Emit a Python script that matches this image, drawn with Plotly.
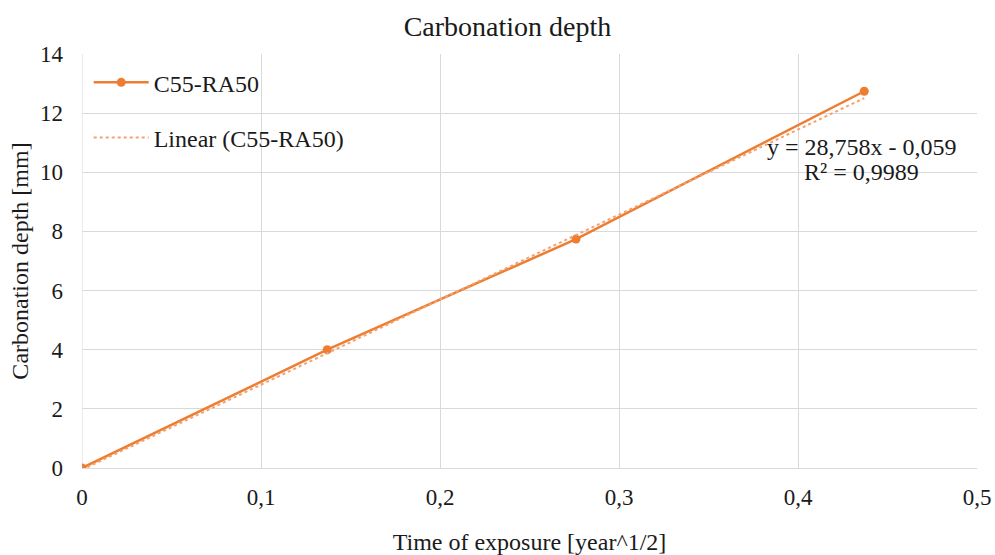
import numpy as np
import plotly.graph_objects as go

# Data
time_sqrt_year = [0.0, 0.137, 0.276, 0.437]
carb_depth_mm = [0.0, 4.0, 7.74, 12.74]
trend_slope = 28.758
trend_intercept = -0.059
trend_r2 = 0.9989
series_name = "C55-RA50"
x_ticks = [0, 0.1, 0.2, 0.3, 0.4, 0.5]
y_ticks = [0, 2, 4, 6, 8, 10, 12, 14]

orange = "#ED7D31"
font_family = "Liberation Serif"
text_color = "#1a1a1a"

trend_x = np.linspace(0, max(time_sqrt_year), 50)
trend_y = trend_slope * trend_x + trend_intercept

fig = go.Figure()
fig.add_trace(go.Scatter(
    x=time_sqrt_year, y=carb_depth_mm, mode="lines+markers",
    name=series_name, legendgroup="a",
    line=dict(color=orange, width=2.5),
    marker=dict(color=orange, size=9),
))
fig.add_trace(go.Scatter(
    x=trend_x, y=trend_y, mode="lines",
    name=f"Linear ({series_name})", legendgroup="b",
    line=dict(color="#F4A16F", width=2, dash="dot"),
))

eq_line1 = f"y = {trend_slope:.3f}x - {abs(trend_intercept):.3f}".replace(".", ",")
eq_line2 = f"R² = {trend_r2:.4f}".replace(".", ",")
fig.add_annotation(x=0.4355, y=10.86, xref="x", yref="y", text=eq_line1, showarrow=False,
                   font=dict(family=font_family, size=24, color=text_color))
fig.add_annotation(x=0.4355, y=10.01, xref="x", yref="y", text=eq_line2, showarrow=False,
                   font=dict(family=font_family, size=24, color=text_color))

tick_font = dict(family=font_family, size=23, color=text_color)
label_font = dict(family=font_family, size=24, color=text_color)

fig.update_layout(
    width=995, height=555,
    paper_bgcolor="white", plot_bgcolor="white",
    separators=", ",
    margin=dict(l=82, r=18, t=54, b=87, autoexpand=False),
    title=dict(text="Carbonation depth", x=0.51, xanchor="center", y=0.952, yanchor="middle",
               font=dict(family=font_family, size=28, color=text_color)),
    font=tick_font,
    legend=dict(x=0.0075, y=0.985, xanchor="left", yanchor="top",
                bgcolor="rgba(255,255,255,0)", traceorder="grouped",
                tracegroupgap=21, itemwidth=55, font=label_font),
    xaxis=dict(range=[0, 0.5], tickvals=x_ticks, showgrid=True, gridcolor="#D9D9D9",
               zeroline=False, showline=True, linecolor="#D9D9D9", automargin=False,
               ticks="", ticklabelstandoff=8, tickfont=tick_font,
               title=dict(text="Time of exposure [year^1/2]", standoff=24, font=label_font)),
    yaxis=dict(range=[0, 14], tickvals=y_ticks, showgrid=True, gridcolor="#D9D9D9",
               zeroline=False, showline=False, automargin=False,
               ticks="", ticklabelstandoff=18, tickfont=tick_font,
               title=dict(text="Carbonation depth [mm]", standoff=4, font=label_font)),
)
fig.add_shape(type="line", xref="x", yref="y", x0=0, x1=0, y0=0, y1=14,
              line=dict(color="#D9D9D9", width=1), layer="below")

fig.write_html("out.html", config={"displayModeBar": False},
               post_script="document.body.style.margin='0';")
